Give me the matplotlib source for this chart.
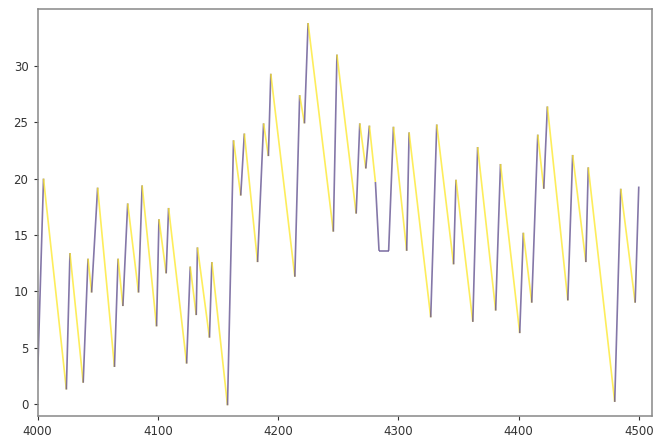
import matplotlib
matplotlib.use("Agg")
import matplotlib.pyplot as plt
from matplotlib.collections import LineCollection
from matplotlib.colors import ListedColormap
import numpy as np

# sawtooth level readings, x = step index
steps = [4000, 4005, 4024, 4027, 4038, 4042, 4045, 4050, 4064, 4067,
         4071, 4075, 4084, 4087, 4099, 4101, 4107, 4109, 4124, 4127,
         4132, 4133, 4143, 4145, 4158, 4163, 4169, 4172, 4183, 4188,
         4192, 4194, 4214, 4218, 4222, 4225, 4246, 4249, 4265, 4268,
         4273, 4276, 4281, 4284, 4292, 4296, 4307, 4309, 4327, 4332,
         4346, 4348, 4362, 4366, 4381, 4385, 4401, 4404, 4411, 4416,
         4421, 4424, 4441, 4445, 4456, 4458, 4480, 4485, 4497, 4500]
level = [2.1, 20.0, 1.3, 13.4, 1.9, 12.9, 9.9, 19.2, 3.3, 12.9,
         8.7, 17.8, 9.9, 19.4, 6.9, 16.4, 11.6, 17.4, 3.6, 12.2,
         7.9, 13.9, 5.9, 12.6, -0.1, 23.4, 18.5, 24.0, 12.6, 24.9,
         22.0, 29.3, 11.3, 27.4, 24.9, 33.8, 15.3, 31.0, 16.9, 24.9,
         20.9, 24.7, 19.7, 13.6, 13.6, 24.6, 13.6, 24.1, 7.7, 24.8,
         12.4, 19.9, 7.3, 22.8, 8.3, 21.3, 6.3, 15.2, 9.0, 23.9,
         19.1, 26.4, 9.2, 22.1, 12.6, 21.0, 0.2, 19.1, 9.0, 19.3]
# state of each segment (0 = charging, 1 = draining)
state = [0, 1, 0, 1, 0, 1, 0, 1, 0, 1,
         0, 1, 0, 1, 0, 1, 0, 1, 0, 1,
         0, 1, 0, 1, 0, 1, 0, 1, 0, 1,
         0, 1, 0, 1, 0, 1, 0, 1, 0, 1,
         0, 1, 0, 0, 0, 1, 0, 1, 0, 1,
         0, 1, 0, 1, 0, 1, 0, 1, 0, 1,
         0, 1, 0, 1, 0, 1, 0, 1, 0]

pts = np.column_stack([steps, level]).reshape(-1, 1, 2)
segs = np.concatenate([pts[:-1], pts[1:]], axis=1)

fig = plt.figure(figsize=(6.55, 4.4), dpi=100)
ax = fig.add_axes([37.5 / 655, 1 - 416 / 440, (652 - 37.5) / 655, (416 - 9.5) / 440])

cmap = ListedColormap(["#5b4a8b", "#fde725"])
lc = LineCollection(segs, cmap=cmap, linewidths=1.2, alpha=0.75)
lc.set_array(np.array(state, dtype=float))
lc.set_clim(0, 1)
ax.add_collection(lc)

ax.set_xlim(4000, 4511)
ax.set_ylim(-1.05, 35.0)
ax.set_xticks([4000, 4100, 4200, 4300, 4400, 4500])
ax.set_yticks([0, 5, 10, 15, 20, 25, 30])
ax.tick_params(labelsize=8.5, colors="#333333", length=3)
for sp in ax.spines.values():
    sp.set_color("#888888")
    sp.set_linewidth(1.1)

fig.savefig("out.png", dpi=100)
